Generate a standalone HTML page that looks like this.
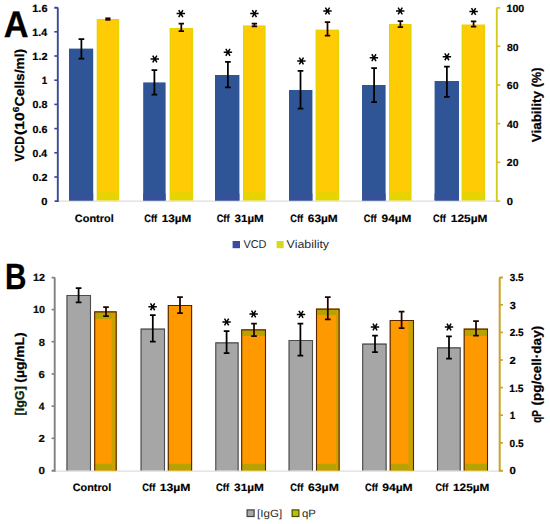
<!DOCTYPE html>
<html lang="en"><head><meta charset="utf-8"><title>Figure</title>
<style>html,body{margin:0;padding:0;background:#fff}svg{display:block}text{font-family:"Liberation Sans", sans-serif;text-rendering:geometricPrecision}</style></head><body>
<svg width="550" height="524" viewBox="0 0 550 524">
<rect width="550" height="524" fill="#fff"/>
<g id="chartA">
<rect x="57" y="200.6" width="440" height="1" fill="#d4d4d4"/>
<rect x="69.0" y="48.6" width="24.20" height="151.90" fill="#2f5597"/>
<rect x="69.0" y="193.5" width="24.20" height="7.00" fill="#34519a"/>
<rect x="143.2" y="82.4" width="22.40" height="118.10" fill="#2f5597"/>
<rect x="143.2" y="193.5" width="22.40" height="7.00" fill="#34519a"/>
<rect x="215.0" y="75.0" width="24.40" height="125.50" fill="#2f5597"/>
<rect x="215.0" y="193.5" width="24.40" height="7.00" fill="#34519a"/>
<rect x="289.0" y="90.0" width="23.40" height="110.50" fill="#2f5597"/>
<rect x="289.0" y="193.5" width="23.40" height="7.00" fill="#34519a"/>
<rect x="362.0" y="85.0" width="23.60" height="115.50" fill="#2f5597"/>
<rect x="362.0" y="193.5" width="23.60" height="7.00" fill="#34519a"/>
<rect x="434.6" y="81.0" width="24.40" height="119.50" fill="#2f5597"/>
<rect x="434.6" y="193.5" width="24.40" height="7.00" fill="#34519a"/>
<rect x="96.7" y="19.0" width="22.50" height="181.50" fill="#e6d400"/>
<rect x="98.2" y="20.0" width="19.00" height="172.30" fill="#ffcb05"/>
<rect x="169.6" y="28.0" width="23.50" height="172.50" fill="#e6d400"/>
<rect x="171.1" y="29.0" width="20.00" height="163.30" fill="#ffcb05"/>
<rect x="243.0" y="25.4" width="22.60" height="175.10" fill="#e6d400"/>
<rect x="244.5" y="26.4" width="19.10" height="165.90" fill="#ffcb05"/>
<rect x="315.6" y="29.6" width="23.40" height="170.90" fill="#e6d400"/>
<rect x="317.1" y="30.6" width="19.90" height="161.70" fill="#ffcb05"/>
<rect x="389.0" y="24.0" width="22.60" height="176.50" fill="#e6d400"/>
<rect x="390.5" y="25.0" width="19.10" height="167.30" fill="#ffcb05"/>
<rect x="461.6" y="24.5" width="23.40" height="176.00" fill="#e6d400"/>
<rect x="463.1" y="25.5" width="19.90" height="166.80" fill="#ffcb05"/>
<path d="M81.40 39.00V58.60M78.55 39.00H84.25M78.55 58.60H84.25" stroke="#000" stroke-width="1.75" fill="none"/>
<path d="M154.40 70.00V94.60M151.55 70.00H157.25M151.55 94.60H157.25" stroke="#000" stroke-width="1.75" fill="none"/>
<path d="M227.90 61.90V87.30M225.05 61.90H230.75M225.05 87.30H230.75" stroke="#000" stroke-width="1.75" fill="none"/>
<path d="M300.50 70.80V108.60M297.65 70.80H303.35M297.65 108.60H303.35" stroke="#000" stroke-width="1.75" fill="none"/>
<path d="M374.10 68.00V102.00M371.25 68.00H376.95M371.25 102.00H376.95" stroke="#000" stroke-width="1.75" fill="none"/>
<path d="M446.90 66.70V96.80M444.05 66.70H449.75M444.05 96.80H449.75" stroke="#000" stroke-width="1.75" fill="none"/>
<rect x="105.3" y="17.4" width="5.2" height="3.3" fill="#2a0008"/>
<path d="M181.30 23.60V31.00M178.60 23.60H184.00M178.60 31.00H184.00" stroke="#1e0000" stroke-width="1.75" fill="none"/>
<path d="M254.40 23.60V26.40M251.70 23.60H257.10M251.70 26.40H257.10" stroke="#1e0000" stroke-width="1.75" fill="none"/>
<path d="M327.50 22.00V35.60M324.80 22.00H330.20M324.80 35.60H330.20" stroke="#1e0000" stroke-width="1.75" fill="none"/>
<path d="M400.40 21.00V27.00M397.70 21.00H403.10M397.70 27.00H403.10" stroke="#1e0000" stroke-width="1.75" fill="none"/>
<path d="M473.60 21.30V26.60M470.90 21.30H476.30M470.90 26.60H476.30" stroke="#1e0000" stroke-width="1.75" fill="none"/>
<path d="M150.60 59.00L159.00 59.00M152.70 55.54L156.90 62.46M156.90 55.54L152.70 62.46" stroke="#000" stroke-width="1.5" fill="none" stroke-linecap="butt"/>
<path d="M223.70 52.30L232.10 52.30M225.80 48.84L230.00 55.76M230.00 48.84L225.80 55.76" stroke="#000" stroke-width="1.5" fill="none" stroke-linecap="butt"/>
<path d="M297.20 61.00L305.60 61.00M299.30 57.54L303.50 64.46M303.50 57.54L299.30 64.46" stroke="#000" stroke-width="1.5" fill="none" stroke-linecap="butt"/>
<path d="M369.70 57.70L378.10 57.70M371.80 54.24L376.00 61.16M376.00 54.24L371.80 61.16" stroke="#000" stroke-width="1.5" fill="none" stroke-linecap="butt"/>
<path d="M442.70 56.80L451.10 56.80M444.80 53.34L449.00 60.26M449.00 53.34L444.80 60.26" stroke="#000" stroke-width="1.5" fill="none" stroke-linecap="butt"/>
<path d="M176.60 13.60L185.00 13.60M178.70 10.14L182.90 17.06M182.90 10.14L178.70 17.06" stroke="#000" stroke-width="1.5" fill="none" stroke-linecap="butt"/>
<path d="M250.20 13.60L258.60 13.60M252.30 10.14L256.50 17.06M256.50 10.14L252.30 17.06" stroke="#000" stroke-width="1.5" fill="none" stroke-linecap="butt"/>
<path d="M323.30 11.00L331.70 11.00M325.40 7.54L329.60 14.46M329.60 7.54L325.40 14.46" stroke="#000" stroke-width="1.5" fill="none" stroke-linecap="butt"/>
<path d="M396.00 11.00L404.40 11.00M398.10 7.54L402.30 14.46M402.30 7.54L398.10 14.46" stroke="#000" stroke-width="1.5" fill="none" stroke-linecap="butt"/>
<path d="M469.40 11.50L477.80 11.50M471.50 8.04L475.70 14.96M475.70 8.04L471.50 14.96" stroke="#000" stroke-width="1.5" fill="none" stroke-linecap="butt"/>
<path d="M54.3 7.8H57.1Q57.8 7.8 57.8 8.5V201.1H54.6" stroke="#3a499b" stroke-width="1.9" fill="none"/>
<rect x="54.3" y="31.00" width="3.5" height="1.6" fill="#3a499b"/>
<rect x="54.3" y="55.20" width="3.5" height="1.6" fill="#3a499b"/>
<rect x="54.3" y="79.40" width="3.5" height="1.6" fill="#3a499b"/>
<rect x="54.3" y="103.60" width="3.5" height="1.6" fill="#3a499b"/>
<rect x="54.3" y="127.80" width="3.5" height="1.6" fill="#3a499b"/>
<rect x="54.3" y="152.00" width="3.5" height="1.6" fill="#3a499b"/>
<rect x="54.3" y="176.20" width="3.5" height="1.6" fill="#3a499b"/>
<text x="32.29" y="12.15" font-size="10.4" font-weight="bold" fill="#000" textLength="15.19" lengthAdjust="spacingAndGlyphs" stroke="#000" stroke-width="0.2">1.6</text>
<text x="32.31" y="36.23" font-size="10.4" font-weight="bold" fill="#000" textLength="14.85" lengthAdjust="spacingAndGlyphs" stroke="#000" stroke-width="0.2">1.4</text>
<text x="32.29" y="60.31" font-size="10.4" font-weight="bold" fill="#000" textLength="15.25" lengthAdjust="spacingAndGlyphs" stroke="#000" stroke-width="0.2">1.2</text>
<text x="41.86" y="84.39" font-size="10.4" font-weight="bold" fill="#000" textLength="5.5" lengthAdjust="spacingAndGlyphs" stroke="#000" stroke-width="0.2">1</text>
<text x="32.57" y="108.47" font-size="10.4" font-weight="bold" fill="#000" textLength="14.85" lengthAdjust="spacingAndGlyphs" stroke="#000" stroke-width="0.2">0.8</text>
<text x="32.57" y="132.55" font-size="10.4" font-weight="bold" fill="#000" textLength="14.91" lengthAdjust="spacingAndGlyphs" stroke="#000" stroke-width="0.2">0.6</text>
<text x="32.58" y="156.63" font-size="10.4" font-weight="bold" fill="#000" textLength="14.57" lengthAdjust="spacingAndGlyphs" stroke="#000" stroke-width="0.2">0.4</text>
<text x="32.57" y="180.71" font-size="10.4" font-weight="bold" fill="#000" textLength="14.96" lengthAdjust="spacingAndGlyphs" stroke="#000" stroke-width="0.2">0.2</text>
<text x="41.35" y="204.79" font-size="10.4" font-weight="bold" fill="#000" textLength="6.21" lengthAdjust="spacingAndGlyphs" stroke="#000" stroke-width="0.2">0</text>
<path d="M500.2 7.9H497.5Q496.8 7.9 496.8 8.6V201.1H500.2" stroke="#d3cb22" stroke-width="1.9" fill="none"/>
<rect x="496.8" y="45.48" width="3.5" height="1.6" fill="#e0b820"/>
<rect x="496.8" y="84.16" width="3.5" height="1.6" fill="#e0b820"/>
<rect x="496.8" y="122.84" width="3.5" height="1.6" fill="#e0b820"/>
<rect x="496.8" y="161.52" width="3.5" height="1.6" fill="#e0b820"/>
<text x="506.51" y="12.15" font-size="10.4" font-weight="bold" fill="#000" textLength="17.65" lengthAdjust="spacingAndGlyphs" stroke="#000" stroke-width="0.2">100</text>
<text x="506.89" y="50.68" font-size="10.4" font-weight="bold" fill="#000" textLength="11.55" lengthAdjust="spacingAndGlyphs" stroke="#000" stroke-width="0.2">80</text>
<text x="506.83" y="89.21" font-size="10.4" font-weight="bold" fill="#000" textLength="11.61" lengthAdjust="spacingAndGlyphs" stroke="#000" stroke-width="0.2">60</text>
<text x="507.05" y="127.74" font-size="10.4" font-weight="bold" fill="#000" textLength="11.39" lengthAdjust="spacingAndGlyphs" stroke="#000" stroke-width="0.2">40</text>
<text x="506.83" y="166.27" font-size="10.4" font-weight="bold" fill="#000" textLength="11.61" lengthAdjust="spacingAndGlyphs" stroke="#000" stroke-width="0.2">20</text>
<text x="506.75" y="204.80" font-size="10.4" font-weight="bold" fill="#000" textLength="6.21" lengthAdjust="spacingAndGlyphs" stroke="#000" stroke-width="0.2">0</text>
<text x="74.86" y="222.2" font-size="10.6" font-weight="bold" fill="#000" textLength="38.85" lengthAdjust="spacingAndGlyphs" stroke="#000" stroke-width="0.15">Control</text>
<text x="144.23" y="222.2" font-size="10.6" font-weight="bold" fill="#000" textLength="12.96" lengthAdjust="spacingAndGlyphs" stroke="#000" stroke-width="0.15">Cff</text>
<text x="161.74" y="222.2" font-size="10.6" font-weight="bold" fill="#000" textLength="29.54" lengthAdjust="spacingAndGlyphs" stroke="#000" stroke-width="0.15">13µM</text>
<text x="216.63" y="222.2" font-size="10.6" font-weight="bold" fill="#000" textLength="12.96" lengthAdjust="spacingAndGlyphs" stroke="#000" stroke-width="0.15">Cff</text>
<text x="234.51" y="222.2" font-size="10.6" font-weight="bold" fill="#000" textLength="29.26" lengthAdjust="spacingAndGlyphs" stroke="#000" stroke-width="0.15">31µM</text>
<text x="290.33" y="222.2" font-size="10.6" font-weight="bold" fill="#000" textLength="12.85" lengthAdjust="spacingAndGlyphs" stroke="#000" stroke-width="0.15">Cff</text>
<text x="307.78" y="222.2" font-size="10.6" font-weight="bold" fill="#000" textLength="30.01" lengthAdjust="spacingAndGlyphs" stroke="#000" stroke-width="0.15">63µM</text>
<text x="363.83" y="222.2" font-size="10.6" font-weight="bold" fill="#000" textLength="12.75" lengthAdjust="spacingAndGlyphs" stroke="#000" stroke-width="0.15">Cff</text>
<text x="381.59" y="222.2" font-size="10.6" font-weight="bold" fill="#000" textLength="29.8" lengthAdjust="spacingAndGlyphs" stroke="#000" stroke-width="0.15">94µM</text>
<text x="433.03" y="222.2" font-size="10.6" font-weight="bold" fill="#000" textLength="12.85" lengthAdjust="spacingAndGlyphs" stroke="#000" stroke-width="0.15">Cff</text>
<text x="450.83" y="222.2" font-size="10.6" font-weight="bold" fill="#000" textLength="36.58" lengthAdjust="spacingAndGlyphs" stroke="#000" stroke-width="0.15">125µM</text>
<text transform="translate(23.8,161.3) rotate(-90)" x="-0.12" font-size="13" font-weight="bold" fill="#000" stroke="#000" stroke-width="0.25" textLength="25.21" lengthAdjust="spacingAndGlyphs">VCD</text>
<text transform="translate(23.8,134.2) rotate(-90)" x="-0.79" font-size="13" font-weight="bold" fill="#000" stroke="#000" stroke-width="0.25" textLength="22.72" lengthAdjust="spacingAndGlyphs">(10</text>
<text transform="translate(18.8,112.2) rotate(-90)" font-size="8.8" font-weight="bold" stroke="#000" stroke-width="0.2" textLength="5.6" lengthAdjust="spacingAndGlyphs">6</text>
<text transform="translate(23.8,105.6) rotate(-90)" x="-0.55" font-size="13" font-weight="bold" fill="#000" stroke="#000" stroke-width="0.25" textLength="57.31" lengthAdjust="spacingAndGlyphs">Cells/ml)</text>
<text transform="translate(541.2,142.1) rotate(-90)" x="-0.13" font-size="13" font-weight="bold" fill="#000" stroke="#000" stroke-width="0.25" textLength="51.22" lengthAdjust="spacingAndGlyphs">Viability</text>
<text transform="translate(541.2,86.6) rotate(-90)" x="-0.63" font-size="13" font-weight="bold" fill="#000" stroke="#000" stroke-width="0.25" textLength="19.56" lengthAdjust="spacingAndGlyphs">(%)</text>
<rect x="232.6" y="241" width="7.4" height="7.2" fill="#3b4a9c"/>
<text x="243.45" y="248" font-size="11.4" font-weight="normal" fill="#2b2b2b" textLength="23.06" lengthAdjust="spacingAndGlyphs">VCD</text>
<rect x="276.6" y="241" width="7" height="7.2" fill="#d8d81c"/>
<text x="286.64" y="248" font-size="11.4" font-weight="normal" fill="#2b2b2b" textLength="42.4" lengthAdjust="spacingAndGlyphs">Viability</text>
<text x="3.64" y="36.5" font-size="37.2" font-weight="bold" fill="#000" textLength="24.79" lengthAdjust="spacingAndGlyphs" stroke="#000" stroke-width="0.3">A</text>
</g>
<g id="chartB">
<rect x="54" y="470.6" width="446" height="1" fill="#d4d4d4"/>
<rect x="66.5" y="295.0" width="24.50" height="175.50" fill="#a6a6a6"/>
<path d="M67.0 470.5V295.5H90.50V470.5" fill="none" stroke="#4d4d4d" stroke-width="1.1"/>
<rect x="140.6" y="328.6" width="24.40" height="141.90" fill="#a6a6a6"/>
<path d="M141.1 470.5V329.1H164.50V470.5" fill="none" stroke="#4d4d4d" stroke-width="1.1"/>
<rect x="215.3" y="342.4" width="23.30" height="128.10" fill="#a6a6a6"/>
<path d="M215.8 470.5V342.9H238.10V470.5" fill="none" stroke="#4d4d4d" stroke-width="1.1"/>
<rect x="288.6" y="340.0" width="24.40" height="130.50" fill="#a6a6a6"/>
<path d="M289.1 470.5V340.5H312.50V470.5" fill="none" stroke="#4d4d4d" stroke-width="1.1"/>
<rect x="362.2" y="343.6" width="24.40" height="126.90" fill="#a6a6a6"/>
<path d="M362.7 470.5V344.1H386.10V470.5" fill="none" stroke="#4d4d4d" stroke-width="1.1"/>
<rect x="437.0" y="347.4" width="23.70" height="123.10" fill="#a6a6a6"/>
<path d="M437.5 470.5V347.9H460.20V470.5" fill="none" stroke="#4d4d4d" stroke-width="1.1"/>
<rect x="94.2" y="311.4" width="22.50" height="159.10" fill="#ff9900"/>
<rect x="95.2" y="463.8" width="20.50" height="6.70" fill="#b7a300"/>
<rect x="95.2" y="312.4" width="20.50" height="6.5" fill="#b7a300"/>
<rect x="111.70" y="312.4" width="4.0" height="158.10" fill="#c9a200"/>
<path d="M94.7 470.5V311.9H116.20V470.5" fill="none" stroke="#552400" stroke-width="1.1"/>
<rect x="167.8" y="305.0" width="24.30" height="165.50" fill="#ff9900"/>
<rect x="168.8" y="463.8" width="22.30" height="6.70" fill="#b7a300"/>
<path d="M168.3 470.5V305.5H191.60V470.5" fill="none" stroke="#552400" stroke-width="1.1"/>
<rect x="241.2" y="329.4" width="24.80" height="141.10" fill="#ff9900"/>
<rect x="242.2" y="463.8" width="22.80" height="6.70" fill="#b7a300"/>
<rect x="242.2" y="330.4" width="22.80" height="5.6" fill="#b7a300"/>
<path d="M241.7 470.5V329.9H265.50V470.5" fill="none" stroke="#552400" stroke-width="1.1"/>
<rect x="316.0" y="308.6" width="23.60" height="161.90" fill="#ff9900"/>
<rect x="317.0" y="463.8" width="21.60" height="6.70" fill="#b7a300"/>
<rect x="317.0" y="309.6" width="21.60" height="5.4" fill="#b7a300"/>
<rect x="336.10" y="309.6" width="2.5" height="160.90" fill="#c9a200"/>
<path d="M316.5 470.5V309.1H339.10V470.5" fill="none" stroke="#552400" stroke-width="1.1"/>
<rect x="389.7" y="320.0" width="24.30" height="150.50" fill="#ff9900"/>
<rect x="390.7" y="463.8" width="22.30" height="6.70" fill="#b7a300"/>
<rect x="408.50" y="321.0" width="4.5" height="149.50" fill="#c9a200"/>
<path d="M390.2 470.5V320.5H413.50V470.5" fill="none" stroke="#552400" stroke-width="1.1"/>
<rect x="463.7" y="328.6" width="24.30" height="141.90" fill="#ff9900"/>
<rect x="464.7" y="463.8" width="22.30" height="6.70" fill="#b7a300"/>
<rect x="464.7" y="329.6" width="22.30" height="6.4" fill="#b7a300"/>
<path d="M464.2 470.5V329.1H487.50V470.5" fill="none" stroke="#552400" stroke-width="1.1"/>
<path d="M78.60 288.00V302.40M75.75 288.00H81.45M75.75 302.40H81.45" stroke="#000" stroke-width="1.75" fill="none"/>
<path d="M152.80 315.00V341.50M149.95 315.00H155.65M149.95 341.50H155.65" stroke="#000" stroke-width="1.75" fill="none"/>
<path d="M226.60 331.00V353.00M223.75 331.00H229.45M223.75 353.00H229.45" stroke="#000" stroke-width="1.75" fill="none"/>
<path d="M300.40 323.60V355.60M297.55 323.60H303.25M297.55 355.60H303.25" stroke="#000" stroke-width="1.75" fill="none"/>
<path d="M375.00 335.60V352.00M372.15 335.60H377.85M372.15 352.00H377.85" stroke="#000" stroke-width="1.75" fill="none"/>
<path d="M449.00 336.40V358.60M446.15 336.40H451.85M446.15 358.60H451.85" stroke="#000" stroke-width="1.75" fill="none"/>
<path d="M106.00 307.00V316.00M103.15 307.00H108.85M103.15 316.00H108.85" stroke="#1c0400" stroke-width="1.75" fill="none"/>
<path d="M180.00 297.00V313.00M177.15 297.00H182.85M177.15 313.00H182.85" stroke="#1c0400" stroke-width="1.75" fill="none"/>
<path d="M254.00 323.60V336.00M251.15 323.60H256.85M251.15 336.00H256.85" stroke="#1c0400" stroke-width="1.75" fill="none"/>
<path d="M327.80 297.20V319.40M324.95 297.20H330.65M324.95 319.40H330.65" stroke="#1c0400" stroke-width="1.75" fill="none"/>
<path d="M401.60 311.60V328.00M398.75 311.60H404.45M398.75 328.00H404.45" stroke="#1c0400" stroke-width="1.75" fill="none"/>
<path d="M476.00 321.00V335.60M473.15 321.00H478.85M473.15 335.60H478.85" stroke="#1c0400" stroke-width="1.75" fill="none"/>
<path d="M148.40 306.80L156.80 306.80M150.50 303.34L154.70 310.26M154.70 303.34L150.50 310.26" stroke="#000" stroke-width="1.5" fill="none" stroke-linecap="butt"/>
<path d="M222.40 322.00L230.80 322.00M224.50 318.54L228.70 325.46M228.70 318.54L224.50 325.46" stroke="#000" stroke-width="1.5" fill="none" stroke-linecap="butt"/>
<path d="M296.80 314.40L305.20 314.40M298.90 310.94L303.10 317.86M303.10 310.94L298.90 317.86" stroke="#000" stroke-width="1.5" fill="none" stroke-linecap="butt"/>
<path d="M370.80 327.00L379.20 327.00M372.90 323.54L377.10 330.46M377.10 323.54L372.90 330.46" stroke="#000" stroke-width="1.5" fill="none" stroke-linecap="butt"/>
<path d="M444.80 327.00L453.20 327.00M446.90 323.54L451.10 330.46M451.10 323.54L446.90 330.46" stroke="#000" stroke-width="1.5" fill="none" stroke-linecap="butt"/>
<path d="M249.40 314.00L257.80 314.00M251.50 310.54L255.70 317.46M255.70 310.54L251.50 317.46" stroke="#000" stroke-width="1.5" fill="none" stroke-linecap="butt"/>
<path d="M51.6 277.6H54.0Q54.7 277.6 54.7 278.3V470.8H51.6" stroke="#808080" stroke-width="1.9" fill="none"/>
<rect x="51.6" y="308.78" width="3.1" height="1.6" fill="#808080"/>
<rect x="51.6" y="340.96" width="3.1" height="1.6" fill="#808080"/>
<rect x="51.6" y="373.14" width="3.1" height="1.6" fill="#808080"/>
<rect x="51.6" y="405.32" width="3.1" height="1.6" fill="#808080"/>
<rect x="51.6" y="437.50" width="3.1" height="1.6" fill="#808080"/>
<text x="32.9" y="281.30" font-size="10.4" font-weight="bold" fill="#0a0f0a" textLength="12.06" lengthAdjust="spacingAndGlyphs" stroke="#000" stroke-width="0.2">12</text>
<text x="32.9" y="313.47" font-size="10.4" font-weight="bold" fill="#0a0f0a" textLength="12.06" lengthAdjust="spacingAndGlyphs" stroke="#000" stroke-width="0.2">10</text>
<text x="38.67" y="345.64" font-size="10.4" font-weight="bold" fill="#0a0f0a" textLength="6.18" lengthAdjust="spacingAndGlyphs" stroke="#000" stroke-width="0.2">8</text>
<text x="38.6" y="377.81" font-size="10.4" font-weight="bold" fill="#0a0f0a" textLength="6.31" lengthAdjust="spacingAndGlyphs" stroke="#000" stroke-width="0.2">6</text>
<text x="38.85" y="409.98" font-size="10.4" font-weight="bold" fill="#0a0f0a" textLength="5.72" lengthAdjust="spacingAndGlyphs" stroke="#000" stroke-width="0.2">4</text>
<text x="38.6" y="442.15" font-size="10.4" font-weight="bold" fill="#0a0f0a" textLength="6.37" lengthAdjust="spacingAndGlyphs" stroke="#000" stroke-width="0.2">2</text>
<text x="38.54" y="474.32" font-size="10.4" font-weight="bold" fill="#0a0f0a" textLength="6.44" lengthAdjust="spacingAndGlyphs" stroke="#000" stroke-width="0.2">0</text>
<path d="M503 277.4H500.4Q499.7 277.4 499.7 278.1V470.8H503" stroke="#c9a227" stroke-width="2" fill="none"/>
<rect x="499.7" y="304.00" width="3.3" height="1.6" fill="#c9a227"/>
<rect x="499.7" y="331.60" width="3.3" height="1.6" fill="#c9a227"/>
<rect x="499.7" y="359.20" width="3.3" height="1.6" fill="#c9a227"/>
<rect x="499.7" y="386.80" width="3.3" height="1.6" fill="#c9a227"/>
<rect x="499.7" y="414.40" width="3.3" height="1.6" fill="#c9a227"/>
<rect x="499.7" y="442.00" width="3.3" height="1.6" fill="#c9a227"/>
<text x="509.75" y="281.20" font-size="10.4" font-weight="bold" fill="#000" textLength="13.8" lengthAdjust="spacingAndGlyphs" stroke="#000" stroke-width="0.2">3.5</text>
<text x="509.73" y="308.78" font-size="10.4" font-weight="bold" fill="#000" textLength="6.07" lengthAdjust="spacingAndGlyphs" stroke="#000" stroke-width="0.2">3</text>
<text x="509.65" y="336.36" font-size="10.4" font-weight="bold" fill="#000" textLength="13.9" lengthAdjust="spacingAndGlyphs" stroke="#000" stroke-width="0.2">2.5</text>
<text x="509.61" y="363.94" font-size="10.4" font-weight="bold" fill="#000" textLength="6.26" lengthAdjust="spacingAndGlyphs" stroke="#000" stroke-width="0.2">2</text>
<text x="509.34" y="391.52" font-size="10.4" font-weight="bold" fill="#000" textLength="14.22" lengthAdjust="spacingAndGlyphs" stroke="#000" stroke-width="0.2">1.5</text>
<text x="509.76" y="419.10" font-size="10.4" font-weight="bold" fill="#000" textLength="5.5" lengthAdjust="spacingAndGlyphs" stroke="#000" stroke-width="0.2">1</text>
<text x="509.6" y="446.68" font-size="10.4" font-weight="bold" fill="#000" textLength="13.95" lengthAdjust="spacingAndGlyphs" stroke="#000" stroke-width="0.2">0.5</text>
<text x="509.55" y="474.26" font-size="10.4" font-weight="bold" fill="#000" textLength="6.32" lengthAdjust="spacingAndGlyphs" stroke="#000" stroke-width="0.2">0</text>
<text x="72.77" y="491.3" font-size="10.6" font-weight="bold" fill="#000" textLength="38.44" lengthAdjust="spacingAndGlyphs" stroke="#000" stroke-width="0.15">Control</text>
<text x="142.22" y="491.3" font-size="10.6" font-weight="bold" fill="#000" textLength="13.06" lengthAdjust="spacingAndGlyphs" stroke="#000" stroke-width="0.15">Cff</text>
<text x="159.81" y="491.3" font-size="10.6" font-weight="bold" fill="#000" textLength="30.7" lengthAdjust="spacingAndGlyphs" stroke="#000" stroke-width="0.15">13µM</text>
<text x="216.02" y="491.3" font-size="10.6" font-weight="bold" fill="#000" textLength="13.06" lengthAdjust="spacingAndGlyphs" stroke="#000" stroke-width="0.15">Cff</text>
<text x="234.1" y="491.3" font-size="10.6" font-weight="bold" fill="#000" textLength="29.78" lengthAdjust="spacingAndGlyphs" stroke="#000" stroke-width="0.15">31µM</text>
<text x="290.33" y="491.3" font-size="10.6" font-weight="bold" fill="#000" textLength="12.96" lengthAdjust="spacingAndGlyphs" stroke="#000" stroke-width="0.15">Cff</text>
<text x="308.07" y="491.3" font-size="10.6" font-weight="bold" fill="#000" textLength="30.74" lengthAdjust="spacingAndGlyphs" stroke="#000" stroke-width="0.15">63µM</text>
<text x="364.93" y="491.3" font-size="10.6" font-weight="bold" fill="#000" textLength="12.96" lengthAdjust="spacingAndGlyphs" stroke="#000" stroke-width="0.15">Cff</text>
<text x="382.18" y="491.3" font-size="10.6" font-weight="bold" fill="#000" textLength="30.53" lengthAdjust="spacingAndGlyphs" stroke="#000" stroke-width="0.15">94µM</text>
<text x="435.54" y="491.3" font-size="10.6" font-weight="bold" fill="#000" textLength="12.65" lengthAdjust="spacingAndGlyphs" stroke="#000" stroke-width="0.15">Cff</text>
<text x="453.03" y="491.3" font-size="10.6" font-weight="bold" fill="#000" textLength="36.37" lengthAdjust="spacingAndGlyphs" stroke="#000" stroke-width="0.15">125µM</text>
<text transform="translate(23.5,414.8) rotate(-90)" x="-0.69" font-size="12.8" font-weight="bold" fill="#0c240c" stroke="#0c240c" stroke-width="0.25" textLength="29.31" lengthAdjust="spacingAndGlyphs">[IgG]</text>
<text transform="translate(23.5,382.0) rotate(-90)" x="-0.69" font-size="12.8" font-weight="bold" fill="#000" stroke="#000" stroke-width="0.25" textLength="50.33" lengthAdjust="spacingAndGlyphs">(µg/mL)</text>
<text transform="translate(541.2,422.4) rotate(-90)" x="-0.39" font-size="13" font-weight="bold" fill="#000" stroke="#000" stroke-width="0.25" textLength="12.51" lengthAdjust="spacingAndGlyphs">qP</text>
<text transform="translate(541.2,404.9) rotate(-90)" x="-0.68" font-size="13" font-weight="bold" fill="#000" stroke="#000" stroke-width="0.25" textLength="79.75" lengthAdjust="spacingAndGlyphs">(pg/cell·day)</text>
<rect x="247.1" y="509.9" width="7" height="6.6" fill="#a9a9a9" stroke="#404040" stroke-width="1.2"/>
<text x="257.09" y="517" font-size="10.5" font-weight="normal" fill="#2b2b2b" textLength="25.05" lengthAdjust="spacingAndGlyphs">[IgG]</text>
<rect x="292.1" y="509.9" width="6.8" height="6.6" fill="#b9c200" stroke="#4a4a00" stroke-width="1.2"/>
<text x="301.94" y="517" font-size="10.5" font-weight="normal" fill="#2b2b2b" textLength="13.96" lengthAdjust="spacingAndGlyphs">qP</text>
<text x="5.07" y="289.1" font-size="36.4" font-weight="bold" fill="#000" textLength="21.43" lengthAdjust="spacingAndGlyphs" stroke="#000" stroke-width="0.3">B</text>
</g>
</svg></body></html>
